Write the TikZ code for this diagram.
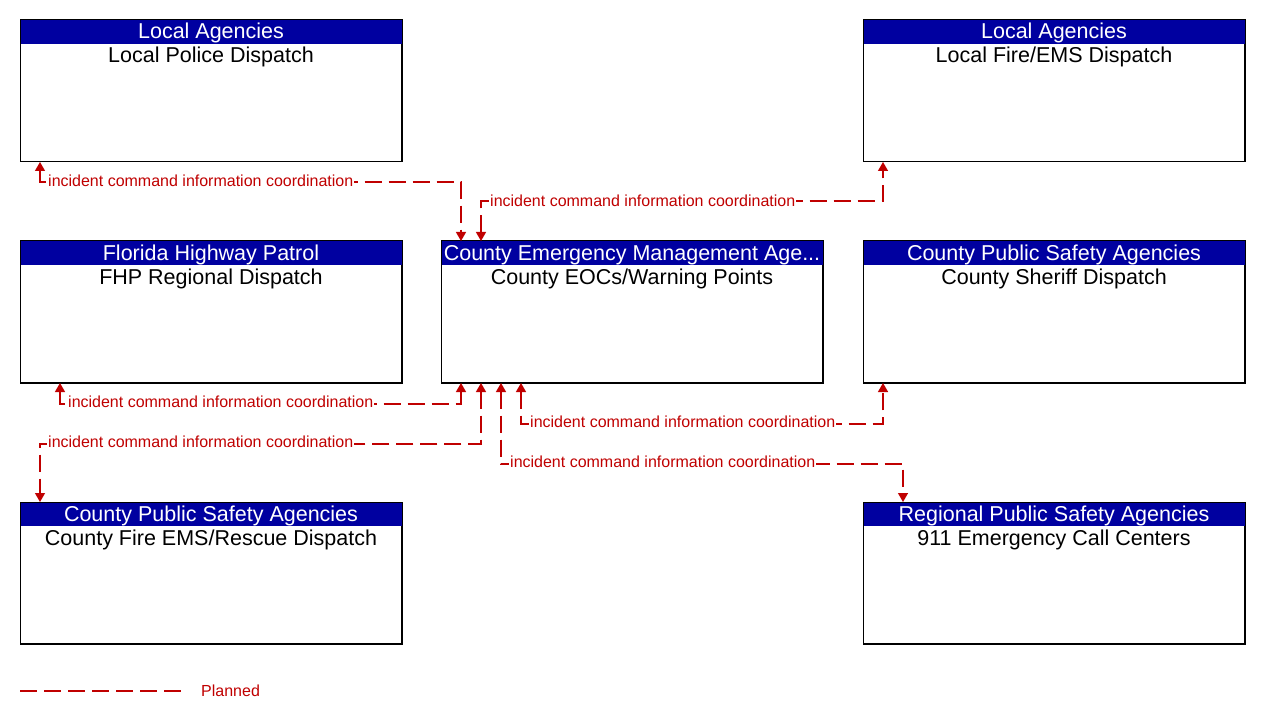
\documentclass[tikz,border=0pt]{standalone}
\usepackage{fontspec}
\setmainfont{Liberation Sans}
\usetikzlibrary{arrows.meta,calc}
\definecolor{hdrblue}{RGB}{0,0,160}
\definecolor{flowred}{RGB}{192,0,0}
\tikzset{
  box/.style={draw=black, line width=1pt, minimum width=381pt, minimum height=141pt, inner sep=0pt, anchor=north west},
  hdrtext/.style={text=white, font=\fontsize{21.5}{25}\selectfont, anchor=base, inner sep=0pt},
  bodytext/.style={text=black, font=\fontsize{21.5}{25}\selectfont, anchor=base, inner sep=0pt},
  tip/.tip={Triangle[length=9pt 0 0,width=10pt 0 0]},
  flow/.style={draw=flowred, line width=1.3pt, dash pattern=on 17pt off 7pt, {tip}-{tip}},
  lbl/.style={text=flowred, fill=white, font=\fontsize{16}{19}\selectfont, inner sep=1pt, anchor=west},
}
\newcommand{\archbox}[4]{%
  \node[box] (#1) at (#2) {};
  \fill[hdrblue] (#1.north west) rectangle ([yshift=-24pt]#1.north east);
  \node[hdrtext] (#1h) at ([yshift=-19pt]#1.north) {#3};
  \node[bodytext] (#1b) at ([yshift=-43pt]#1.north) {#4};
  \draw[line width=1pt] (#1.north west) rectangle (#1.south east);
}
\begin{document}
\begin{tikzpicture}[x=1pt,y=-1pt]
\useasboundingbox (0,0) rectangle (1261,722);
\archbox{police}{20,20}{Local Agencies}{Local Police Dispatch}
\archbox{fire}{863,20}{Local Agencies}{Local Fire/EMS Dispatch}
\archbox{fhp}{20,241}{Florida Highway Patrol}{FHP Regional Dispatch}
\archbox{eoc}{441,241}{County Emergency Management Age...}{County EOCs/Warning Points}
\archbox{sheriff}{863,241}{County Public Safety Agencies}{County Sheriff Dispatch}
\archbox{cfems}{20,502}{County Public Safety Agencies}{County Fire EMS/Rescue Dispatch}
\archbox{nine}{863,502}{Regional Public Safety Agencies}{911 Emergency Call Centers}

% 1 police <-> eoc
\draw[flow] ([xshift=20pt]police.south west) -- ++(0,20) -| ([xshift=20pt]eoc.north west);
\node[lbl] (l1) at (47,181) {incident command information coordination};
% 2 eoc <-> local fire
\draw[flow] ([xshift=40pt]eoc.north west) -- ++(0,-40) -| ([xshift=20pt]fire.south west);
\node[lbl] (l2) at (489,201) {incident command information coordination};
% 3 fhp <-> eoc
\draw[flow] ([xshift=40pt]fhp.south west) -- ++(0,21) -| ([xshift=20pt]eoc.south west);
\node[lbl] (l3) at (67,402) {incident command information coordination};
% 4 eoc <-> county fire ems
\draw[flow] ([xshift=40pt]eoc.south west) -- ++(0,61) -| ([xshift=20pt]cfems.north west);
\node[lbl] (l4) at (47,442) {incident command information coordination};
% 5 eoc <-> sheriff
\draw[flow] ([xshift=80pt]eoc.south west) -- ++(0,41) -| ([xshift=20pt]sheriff.south west);
\node[lbl] (l5) at (529,422) {incident command information coordination};
% 6 eoc <-> 911
\draw[flow] ([xshift=60pt]eoc.south west) -- ++(0,81) -| ([xshift=40pt]nine.north west);
\node[lbl] (l6) at (509,462) {incident command information coordination};

% legend
\coordinate (lega) at (20,691);
\coordinate (legb) at (181,691);
\draw[draw=flowred, line width=1.3pt, dash pattern=on 17pt off 7pt] (lega) -- (legb);
\node[lbl, fill=none] (legt) at (200,691) {Planned};
\end{tikzpicture}
\end{document}
